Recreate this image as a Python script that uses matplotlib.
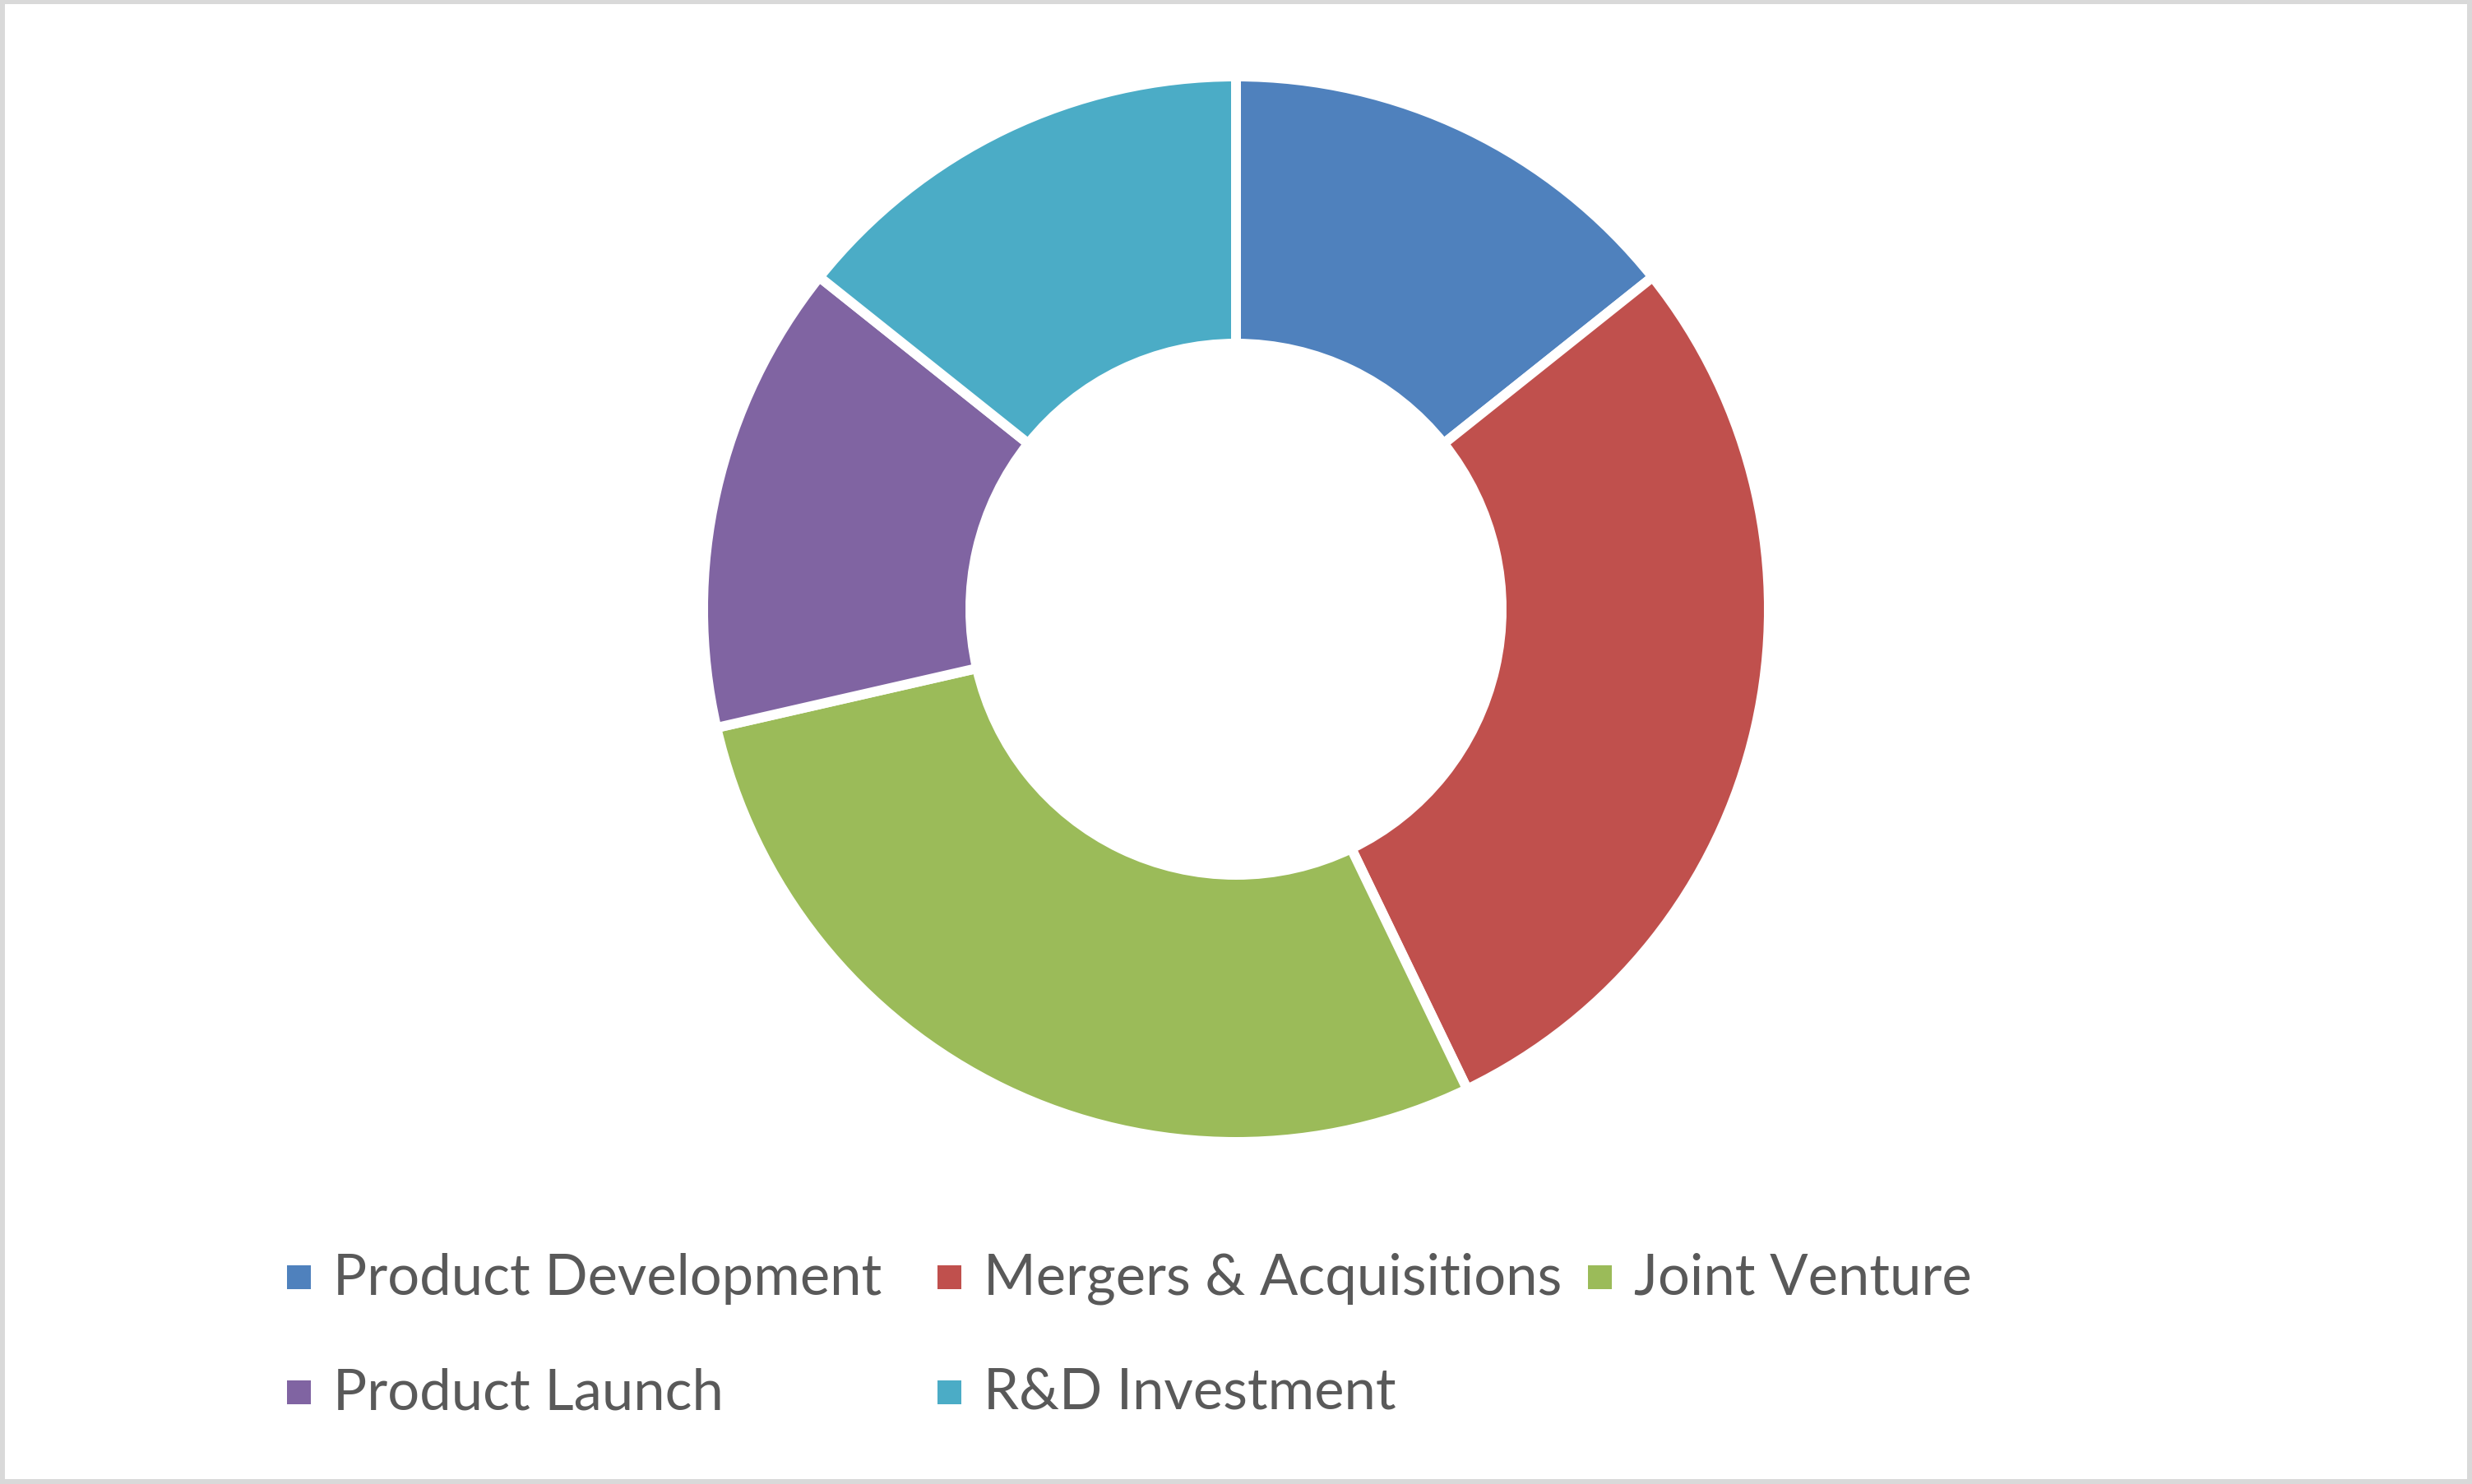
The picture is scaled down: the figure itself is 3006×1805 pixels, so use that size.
import matplotlib
matplotlib.use("Agg")
import matplotlib.pyplot as plt
from matplotlib.patches import Rectangle

categories = ["Product Development", "Mergers & Acquisitions", "Joint Venture",
              "Product Launch", "R&D Investment"]
values = [1, 2, 2, 1, 1]
colors = ["#4F81BD", "#C0504D", "#9BBB59", "#8064A2", "#4BACC6"]

W, H = 3006, 1806
DPI = 100
fig = plt.figure(figsize=(W / DPI, H / DPI), dpi=DPI)
fig.patch.set_facecolor("white")

# donut geometry (pixels)
cx, cy = 1503, 742          # from top
R_out = 648                  # wedge outer radius incl. half edge
gap_px = 12
lw_pt = gap_px * 72 / DPI
ax = fig.add_axes([(cx - R_out) / W, (H - cy - R_out) / H, 2 * R_out / W, 2 * R_out / H])
wedges, _ = ax.pie(values, colors=colors, startangle=90, counterclock=False,
                   radius=1.0,
                   wedgeprops=dict(width=(648 - 323) / 648, edgecolor="white",
                                   linewidth=lw_pt))
for w in wedges:
    w.set_clip_on(False)
ax.set_xlim(-1, 1)
ax.set_ylim(-1, 1)
ax.set_aspect("equal")
ax.axis("off")

# legend (manual, Excel-like fixed columns)
col_x = [349, 1140, 1931]
row_y = [1540, 1680]   # top of squares
sq = 29
txt_color = "#595959"
for i, (name, col) in enumerate(zip(categories, colors)):
    r, c = divmod(i, 3)
    x0 = col_x[c]
    y0 = row_y[r]
    fig.patches.append(Rectangle((x0 / W, (H - y0 - sq) / H), sq / W, sq / H,
                                 transform=fig.transFigure, facecolor=col,
                                 edgecolor="none"))
    fig.text((x0 + 56) / W, (H - (y0 + 35)) / H, name, fontsize=49.5,
             family=["Lato", "DejaVu Sans"], color=txt_color,
             ha="left", va="baseline")

# outer border
fig.patches.append(Rectangle((3 / W, 3 / H), (W - 6) / W, (H - 6) / H,
                             transform=fig.transFigure, facecolor="none",
                             edgecolor="#D9D9D9", linewidth=6 * 72 / DPI))

fig.savefig("out.png", dpi=DPI, facecolor="white")
